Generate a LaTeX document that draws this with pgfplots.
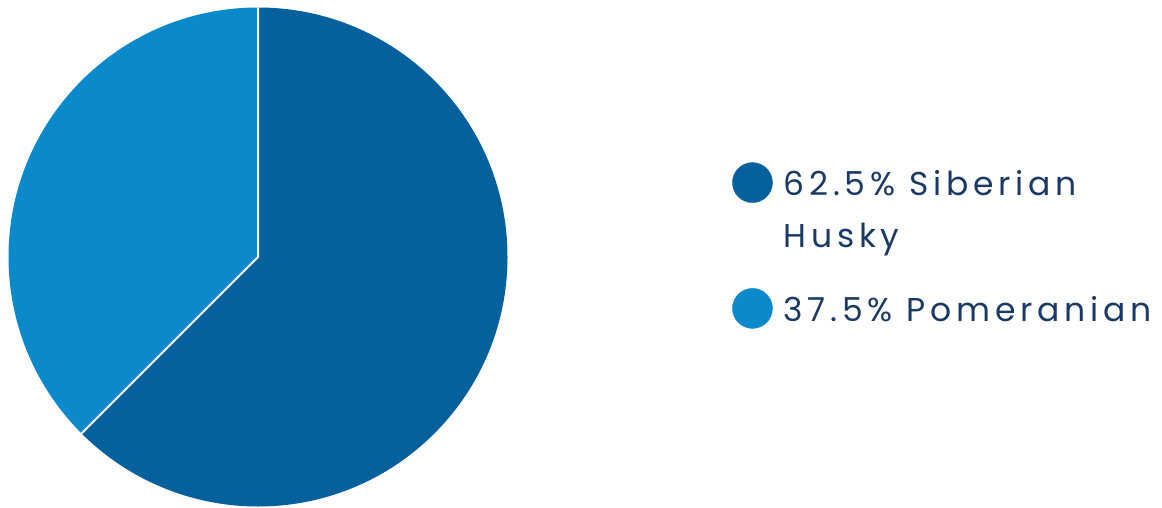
\documentclass[border=0pt]{standalone}
\usepackage{pgfplots}
\usepackage{pgfplotstable}
\pgfplotsset{compat=1.18}
\usepackage{fontspec}
\setmainfont{Poppins}[LetterSpace=14.5]

\definecolor{husky}{HTML}{05609B}
\definecolor{pomer}{HTML}{0B8ACB}
\definecolor{txt}{HTML}{1B3A63}

% slice shares, percent
\pgfplotstableread{
name value
Husky 62.5
Pomeranian 37.5
}\piedata

\begin{document}
\begin{tikzpicture}
\useasboundingbox (0,0) rectangle (1162pt,507pt);
\pgfplotstablegetelem{0}{value}\of\piedata
\pgfmathsetmacro{\va}{\pgfplotsretval}
\pgfmathsetmacro{\aend}{90-3.6*\va}
\begin{axis}[
    at={(258pt,250pt)}, anchor=center,
    scale only axis, width=499pt, height=499pt,
    xmin=-1, xmax=1, ymin=-1, ymax=1,
    hide axis, clip=false,
    legend style={
        at={(axis description cs:1.45,0.69)}, anchor=north west,
        draw=none, fill=none, inner sep=0pt,
        font=\fontsize{33}{52}\selectfont\color{txt},
        row sep=39pt, column sep=11pt,
        cells={anchor=north west, align=left},
        nodes={inner sep=0pt, outer sep=0pt},
    },
    legend image code/.code={\fill[#1] (8pt,-12pt) circle[radius=20pt];},
]
\fill[husky] (axis cs:0,0) -- (axis cs:0,1)
    arc[start angle=90, end angle=\aend, radius=249.5pt] -- cycle;
\fill[pomer] (axis cs:0,0) -- (axis cs:0,1)
    arc[start angle=90, end angle=\aend+360, radius=249.5pt] -- cycle;
\draw[white, line width=2pt] (axis cs:0,1) -- (axis cs:0,0) -- (axis cs:{cos(\aend)},{sin(\aend)});
\addlegendimage{husky}
\addlegendentry{62.5\% Siberian\\Husky}
\addlegendimage{pomer}
\addlegendentry{37.5\% Pomeranian}
\end{axis}
\end{tikzpicture}
\end{document}
